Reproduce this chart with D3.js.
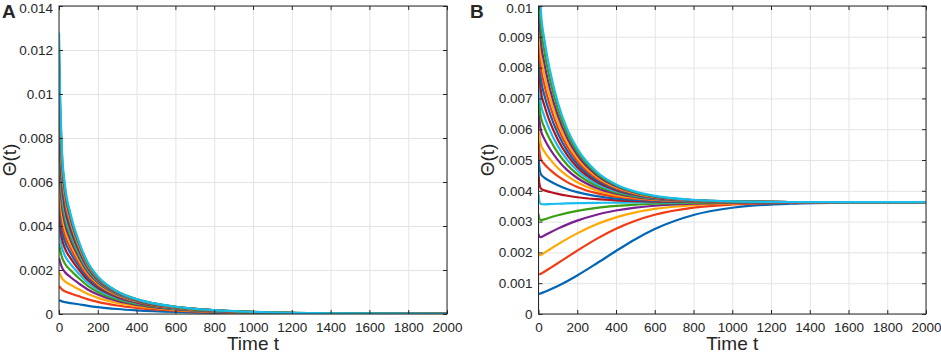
<!DOCTYPE html>
<html>
<head>
<meta charset="utf-8">
<script src="https://cdn.jsdelivr.net/npm/d3@7"></script>
<style>
  body { margin: 0; background: #fff; }
  text { font-family: "Liberation Sans", Arial, sans-serif; fill: #262626; }
</style>
</head>
<body>
<div id="chart"></div>
<script>
// sample times of the curves
const timesA = [0, 5, 15, 30, 60, 100, 150, 200, 300, 400, 600, 800, 1000, 1400, 2000];
const timesB = [0, 4, 12, 30, 60, 100, 150, 200, 300, 400, 500, 600, 800, 1000, 1300, 1600, 2000];

// Θ(t), in units of 1e-4
const thetaA = [
  [6.4, 6.16, 5.75, 5.40, 4.96, 4.42, 3.72, 3.14, 2.27, 1.66, 0.91, 0.51, 0.29, 0.092, 0.017],
  [12.8, 12.19, 11.19, 10.34, 9.34, 8.15, 6.66, 5.50, 3.85, 2.75, 1.47, 0.81, 0.45, 0.145, 0.027],
  [19.2, 18.09, 16.33, 14.90, 13.23, 11.33, 9.04, 7.34, 5.01, 3.53, 1.85, 1.01, 0.56, 0.18, 0.033],
  [25.6, 23.88, 21.21, 19.10, 16.71, 14.07, 11.02, 8.82, 5.90, 4.10, 2.12, 1.15, 0.64, 0.20, 0.037],
  [32.0, 29.55, 25.84, 22.99, 19.85, 16.47, 12.68, 10.03, 6.61, 4.55, 2.33, 1.25, 0.69, 0.22, 0.041],
  [38.4, 35.10, 30.25, 26.60, 22.68, 18.57, 14.09, 11.03, 7.18, 4.91, 2.49, 1.34, 0.74, 0.23, 0.043],
  [44.8, 40.55, 34.44, 29.96, 25.26, 20.44, 15.32, 11.89, 7.65, 5.20, 2.62, 1.40, 0.77, 0.245, 0.045],
  [51.2, 45.89, 38.43, 33.10, 27.62, 22.11, 16.38, 12.62, 8.05, 5.44, 2.73, 1.46, 0.80, 0.253, 0.047],
  [57.6, 51.13, 42.24, 36.04, 29.78, 23.61, 17.32, 13.26, 8.39, 5.65, 2.82, 1.50, 0.82, 0.26, 0.048],
  [64.0, 56.27, 45.88, 38.79, 31.76, 24.96, 18.15, 13.81, 8.68, 5.82, 2.89, 1.54, 0.84, 0.267, 0.049],
  [70.4, 61.30, 49.36, 41.37, 33.60, 26.19, 18.89, 14.30, 8.94, 5.97, 2.96, 1.57, 0.86, 0.272, 0.050],
  [76.8, 66.25, 52.69, 43.81, 35.29, 27.31, 19.55, 14.74, 9.16, 6.10, 3.01, 1.60, 0.88, 0.277, 0.051],
  [83.2, 71.10, 55.88, 46.10, 36.87, 28.34, 20.16, 15.13, 9.36, 6.22, 3.06, 1.62, 0.89, 0.28, 0.052],
  [89.6, 75.86, 58.93, 48.27, 38.34, 29.28, 20.70, 15.48, 9.54, 6.33, 3.11, 1.64, 0.90, 0.284, 0.052],
  [96.0, 80.54, 61.87, 50.32, 39.71, 30.15, 21.20, 15.80, 9.70, 6.42, 3.15, 1.66, 0.91, 0.287, 0.053],
  [102.4, 85.13, 64.69, 52.26, 40.99, 30.95, 21.65, 16.09, 9.84, 6.50, 3.18, 1.68, 0.92, 0.289, 0.053],
  [108.8, 89.64, 67.40, 54.10, 42.19, 31.70, 22.07, 16.36, 9.97, 6.58, 3.21, 1.70, 0.93, 0.292, 0.054],
  [115.2, 94.06, 70.00, 55.85, 43.32, 32.39, 22.46, 16.60, 10.09, 6.64, 3.24, 1.71, 0.935, 0.294, 0.054],
  [121.6, 98.41, 72.51, 57.52, 44.38, 33.04, 22.81, 16.82, 10.20, 6.71, 3.27, 1.72, 0.94, 0.296, 0.054],
  [128.0, 102.7, 74.93, 59.10, 45.39, 33.64, 23.14, 17.03, 10.30, 6.76, 3.29, 1.73, 0.95, 0.298, 0.055]
];

const thetaB = [
  [6.5, 6.53, 6.70, 7.14, 7.95, 9.12, 10.74, 12.51, 16.40, 20.45, 24.29, 27.59, 32.16, 34.49, 35.81, 36.17, 36.28],
  [13.0, 12.90, 13.08, 13.74, 14.91, 16.51, 18.54, 20.56, 24.39, 27.67, 30.28, 32.21, 34.51, 35.55, 36.10, 36.25, 36.29],
  [19.5, 19.11, 19.16, 19.84, 21.04, 22.61, 24.46, 26.18, 29.11, 31.36, 32.98, 34.11, 35.38, 35.92, 36.20, 36.27, 36.30],
  [26.0, 25.16, 24.95, 25.49, 26.48, 27.72, 29.10, 30.31, 32.24, 33.60, 34.53, 35.15, 35.82, 36.10, 36.25, 36.29, 36.30],
  [32.5, 31.06, 30.47, 30.74, 31.34, 32.06, 32.83, 33.48, 34.45, 35.09, 35.52, 35.80, 36.09, 36.22, 36.28, 36.30, 36.30],
  [39.0, 36.81, 35.72, 35.60, 35.69, 35.79, 35.89, 35.97, 36.09, 36.17, 36.21, 36.24, 36.28, 36.29, 36.30, 36.30, 36.30],
  [45.5, 42.45, 40.76, 40.15, 39.60, 38.98, 38.38, 37.91, 37.27, 36.89, 36.65, 36.51, 36.38, 36.33, 36.30, 36.30, 36.30],
  [52.0, 47.83, 45.42, 44.29, 43.10, 41.80, 40.53, 39.56, 38.25, 37.48, 37.01, 36.73, 36.46, 36.36, 36.31, 36.30, 36.30],
  [58.5, 53.44, 50.40, 48.70, 46.79, 44.73, 42.74, 41.25, 39.24, 38.07, 37.36, 36.94, 36.54, 36.39, 36.32, 36.30, 36.30],
  [65.0, 58.86, 55.10, 52.80, 50.19, 47.39, 44.73, 42.75, 40.11, 38.58, 37.67, 37.13, 36.60, 36.41, 36.32, 36.30, 36.30],
  [71.5, 64.28, 59.76, 56.85, 53.49, 49.95, 46.62, 44.16, 40.92, 39.05, 37.95, 37.30, 36.66, 36.43, 36.33, 36.31, 36.30],
  [78.0, 69.50, 64.14, 60.61, 56.54, 52.28, 48.32, 45.42, 41.64, 39.47, 38.20, 37.44, 36.72, 36.45, 36.33, 36.31, 36.30],
  [84.5, 74.65, 68.41, 64.24, 59.45, 54.49, 49.92, 46.60, 42.30, 39.86, 38.43, 37.58, 36.77, 36.47, 36.34, 36.31, 36.30],
  [91.0, 79.74, 72.58, 67.76, 62.23, 56.58, 51.42, 47.69, 42.91, 40.21, 38.64, 37.70, 36.81, 36.49, 36.34, 36.31, 36.30],
  [97.5, 84.77, 76.64, 71.14, 64.90, 58.56, 52.82, 48.71, 43.48, 40.54, 38.83, 37.82, 36.86, 36.50, 36.35, 36.31, 36.30],
  [104.0, 89.72, 80.58, 74.41, 67.45, 60.44, 54.15, 49.67, 44.01, 40.84, 39.00, 37.92, 36.90, 36.52, 36.35, 36.31, 36.30],
  [110.5, 94.84, 84.77, 77.88, 70.12, 62.40, 55.51, 50.65, 44.54, 41.14, 39.18, 38.03, 36.94, 36.53, 36.35, 36.31, 36.30],
  [117.0, 100.13, 89.18, 81.53, 72.92, 64.41, 56.91, 51.65, 45.08, 41.45, 39.36, 38.13, 36.98, 36.54, 36.35, 36.31, 36.30],
  [123.5, 105.64, 93.93, 85.42, 75.87, 66.53, 58.37, 52.69, 45.64, 41.76, 39.54, 38.24, 37.02, 36.56, 36.36, 36.31, 36.30],
  [130.0, 111.22, 98.67, 89.32, 78.80, 68.61, 59.78, 53.69, 46.17, 42.06, 39.72, 38.35, 37.06, 36.57, 36.36, 36.31, 36.30]
];
const UNIT = 1e-4;

const xTicks = [0, 200, 400, 600, 800, 1000, 1200, 1400, 1600, 1800, 2000];
const yTicksA = [0, 0.002, 0.004, 0.006, 0.008, 0.01, 0.012, 0.014];
const yTickLabelsA = ["0", "0.002", "0.004", "0.006", "0.008", "0.01", "0.012", "0.014"];
const yTicksB = [0, 0.001, 0.002, 0.003, 0.004, 0.005, 0.006, 0.007, 0.008, 0.009, 0.01];
const yTickLabelsB = ["0", "0.001", "0.002", "0.003", "0.004", "0.005", "0.006", "0.007", "0.008", "0.009", "0.01"];

const lineColors = ["#0066b5", "#f23a14", "#ffa800", "#7b1f92", "#3c9e12", "#18bdec", "#b8101c"];

const svg = d3.select("#chart")
    .append("svg")
    .attr("width", 941)
    .attr("height", 358);

function renderPanel(cfg) {
    const w = cfg.right - cfg.left;
    const h = cfg.bottom - cfg.top;

    const x = d3.scaleLinear().domain([0, 2000]).range([0, w]);
    const y = d3.scaleLinear().domain([0, cfg.yMax]).range([h, 0]);

    const g = svg.append("g")
        .attr("transform", "translate(" + cfg.left + "," + cfg.top + ")");

    // grid
    g.append("g")
        .attr("transform", "translate(0," + h + ")")
        .call(d3.axisBottom(x).tickValues(xTicks).tickSize(-h).tickFormat(""))
        .call(s => s.select(".domain").remove())
        .call(s => s.selectAll("line").attr("stroke", "#e4e4e4"));
    g.append("g")
        .call(d3.axisLeft(y).tickValues(cfg.yTicks).tickSize(-w).tickFormat(""))
        .call(s => s.select(".domain").remove())
        .call(s => s.selectAll("line").attr("stroke", "#e4e4e4"));

    // curves
    g.append("clipPath")
        .attr("id", "clip-" + cfg.id)
        .append("rect")
        .attr("width", w)
        .attr("height", h);

    const line = d3.line()
        .x((d, i) => x(cfg.times[i]))
        .y(d => y(d * UNIT))
        .curve(d3.curveMonotoneX);

    g.append("g")
        .attr("clip-path", "url(#clip-" + cfg.id + ")")
        .selectAll("path")
        .data(cfg.series)
        .enter().append("path")
        .attr("d", line)
        .attr("fill", "none")
        .attr("stroke", (d, i) => lineColors[i % lineColors.length])
        .attr("stroke-width", 2.2)
        .attr("stroke-linejoin", "round");

    // axes, ticks pointing inward on all four sides
    const styleAxis = s => {
        s.select(".domain").remove();
        s.selectAll("line").attr("stroke", "#262626");
        s.selectAll("text").style("font-size", "13.5px").attr("fill", "#262626");
    };
    g.append("g")
        .attr("transform", "translate(0," + h + ")")
        .call(d3.axisBottom(x).tickValues(xTicks).tickSizeInner(-4).tickSizeOuter(0).tickPadding(8)
            .tickFormat(d3.format("d")))
        .call(styleAxis);
    g.append("g")
        .call(d3.axisTop(x).tickValues(xTicks).tickSizeInner(-4).tickSizeOuter(0).tickFormat(""))
        .call(styleAxis);
    g.append("g")
        .call(d3.axisLeft(y).tickValues(cfg.yTicks).tickSizeInner(-4).tickSizeOuter(0).tickPadding(6)
            .tickFormat((d, i) => cfg.yLabels[i]))
        .call(styleAxis)
        // keep the top label inside the window
        .call(s => s.selectAll(".tick text").filter(d => d === cfg.yMax).attr("dy", "0.5em"));
    g.append("g")
        .attr("transform", "translate(" + w + ",0)")
        .call(d3.axisRight(y).tickValues(cfg.yTicks).tickSizeInner(-4).tickSizeOuter(0).tickFormat(""))
        .call(styleAxis);

    g.append("rect")
        .attr("width", w)
        .attr("height", h)
        .attr("fill", "none")
        .attr("stroke", "#262626")
        .attr("stroke-width", 1);

    // labels
    g.append("text")
        .attr("x", w / 2)
        .attr("y", 350 - cfg.top)
        .attr("text-anchor", "middle")
        .style("font-size", "19px")
        .text("Time t");

    g.append("text")
        .attr("transform", "translate(" + (cfg.yLabelX - cfg.left) + "," + (h / 2) + ") rotate(-90)")
        .attr("text-anchor", "middle")
        .style("font-size", "19px")
        .text("\u0398(t)");

    svg.append("text")
        .attr("x", cfg.letterX)
        .attr("y", 18)
        .style("font-size", "19px")
        .style("font-weight", "bold")
        .attr("fill", "#111")
        .text(cfg.letter);
}

renderPanel({
    id: "a", letter: "A", letterX: 2, yLabelX: 16,
    left: 59, right: 447, top: 6, bottom: 314,
    yMax: 0.014, yTicks: yTicksA, yLabels: yTickLabelsA,
    times: timesA, series: thetaA
});

renderPanel({
    id: "b", letter: "B", letterX: 470, yLabelX: 494,
    left: 538.5, right: 926, top: 6, bottom: 314,
    yMax: 0.01, yTicks: yTicksB, yLabels: yTickLabelsB,
    times: timesB, series: thetaB
});
</script>
</body>
</html>
